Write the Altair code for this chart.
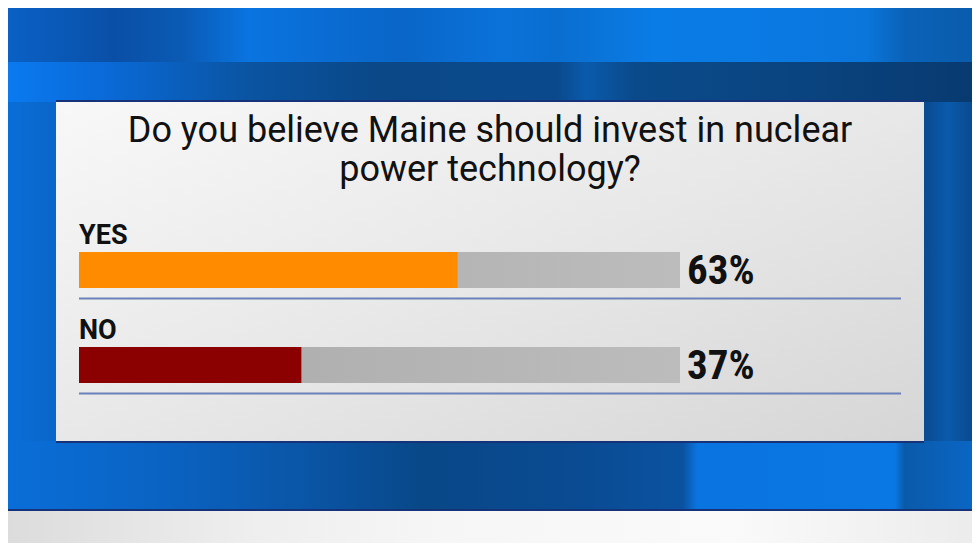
import altair as alt
import pandas as pd

# ---- data ----
categories = ["YES", "NO"]
values = [63, 37]
bar_colors = ["#FF8C00", "#8B0000"]
title_lines = ["Do you believe Maine should invest in nuclear", "power technology?"]

df = pd.DataFrame({"answer": categories, "pct": values})
one = pd.DataFrame({"k": [0]})

W, H = 964, 535
X_SCALE = alt.Scale(domain=[0, 100], range=[71, 672])
Y_SCALE = alt.Scale(domain=categories, range=[244, 375], paddingInner=0.621, paddingOuter=0)


def grad(stops, x2=1, y2=0):
    return alt.LinearGradient(
        gradient="linear",
        stops=[alt.GradientStop(offset=o, color=c) for o, c in stops],
        x1=0, y1=0, x2=x2, y2=y2,
    )


def band(x, x2, y, y2, color):
    return alt.Chart(one).mark_rect(color=color).encode(
        x=alt.value(x), x2=alt.value(x2), y=alt.value(y), y2=alt.value(y2)
    )


top_band = band(0, W, 0, 54, grad([
    (0.00, "#0a60c4"), (0.06, "#0a58b6"), (0.11, "#0a4fa6"), (0.18, "#0a5ab4"),
    (0.25, "#0a74e0"), (0.35, "#0a6ad0"), (0.41, "#0a66c8"), (0.51, "#0a72da"),
    (0.57, "#0a6ed0"), (0.67, "#0a7ce6"), (0.77, "#0a7ae4"), (0.89, "#0a76dc"),
    (0.93, "#0a62b8"), (1.00, "#0a5cac"),
]))
band2 = band(0, W, 54, 94, grad([
    (0.00, "#0a7af0"), (0.10, "#0a6ad8"), (0.25, "#0a54a2"), (0.38, "#0a4888"),
    (0.57, "#0a4a8c"), (0.60, "#0a5aac"), (0.65, "#0a4a8a"), (0.82, "#0a4480"),
    (1.00, "#083a70"),
]))
left_strip = band(0, 48, 94, 433, grad([(0, "#0a6ed8"), (1, "#0a66c8")]))
right_strip = band(916, W, 94, 433, grad([(0, "#0a4a90"), (0.5, "#0a5aac"), (1, "#0a4a90")]))
band3 = band(0, W, 433, 502, grad([
    (0.00, "#0a6ed8"), (0.15, "#0a64c4"), (0.30, "#0a56a8"), (0.43, "#084888"),
    (0.57, "#0a4a90"), (0.70, "#0a52a0"), (0.715, "#0a74e0"), (0.92, "#0a78e4"),
    (0.93, "#0a5aaa"), (1.00, "#0a66c4"),
]))
bottom_strip = band(0, W, 502, H, grad([
    (0.00, "#dcdcdc"), (0.25, "#eeeeee"), (0.45, "#f6f6f6"), (0.75, "#fafafa"),
    (1.00, "#ececec"),
]))
dark_line1 = band(48, 916, 92, 94, "#16337a")
dark_line2 = band(48, 916, 433, 435, "#16337a")
dark_line3 = band(0, W, 501, 503, "#16337a")

panel = band(48, 916, 94, 433, grad([(0, "#f8f8f8"), (0.5, "#e8e8e8"), (1, "#d6d6d6")], x2=1, y2=1))

title = alt.Chart(one).mark_text(
    font="Roboto", fontSize=36, color="#111111",
    align="center", baseline="top", lineHeight=39,
).encode(x=alt.value(482), y=alt.value(106), text=alt.value(title_lines))

base = alt.Chart(df)
y_enc = alt.Y("answer:N", scale=Y_SCALE, axis=None)

track = base.mark_bar(color=grad([(0, "#a9a9a9"), (1, "#bcbcbc")])).encode(
    x=alt.X("zero:Q", scale=X_SCALE, axis=None),
    x2="full:Q",
    y=y_enc,
).transform_calculate(zero="0", full="100")

bars = base.mark_bar().encode(
    x=alt.X("pct:Q", scale=X_SCALE, axis=None),
    y=y_enc,
    color=alt.Color("answer:N", scale=alt.Scale(domain=categories, range=bar_colors), legend=None),
)

rules = base.mark_rule(color="#6a82b8", strokeWidth=2, yOffset=28.5).encode(
    y=y_enc, x=alt.value(71), x2=alt.value(893)
)

cat_labels = base.mark_text(
    font="Roboto", fontWeight="bold", fontSize=27, color="#111111",
    align="left", baseline="alphabetic", dy=-26,
).encode(
    x=alt.X("zero:Q", scale=X_SCALE, axis=None), y=y_enc, text="answer:N"
).transform_calculate(zero="0")

pct_labels = base.mark_text(
    font="Roboto Condensed, Roboto", fontWeight="bold", fontSize=41, color="#111111",
    align="left", baseline="middle", dx=7, dy=2,
).encode(
    x=alt.X("full:Q", scale=X_SCALE, axis=None), y=y_enc, text="label:N"
).transform_calculate(full="100", label="datum.pct + '%'")

chart = alt.layer(
    top_band, band2, left_strip, right_strip, band3, bottom_strip,
    panel, dark_line1, dark_line2, dark_line3,
    title, track, bars, rules, cat_labels, pct_labels,
).properties(
    width=W, height=H, padding=0, autosize="none", background="#0a66cc"
).configure_view(strokeWidth=0)

chart.save("out.html", embed_options={"renderer": "svg", "actions": False})
